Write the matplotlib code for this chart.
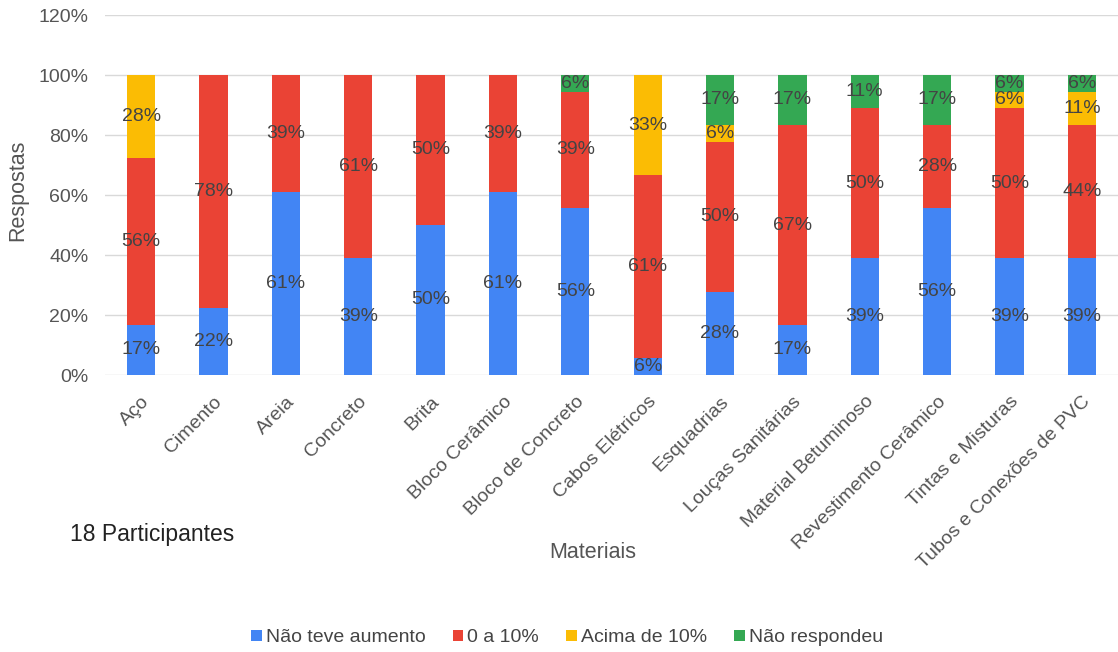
import numpy as np
import matplotlib
matplotlib.use("Agg")
import matplotlib.pyplot as plt

plt.rcParams['font.family'] = ['Liberation Sans', 'DejaVu Sans']

# dados: respostas de 18 participantes
materiais = ["Aço", "Cimento", "Areia", "Concreto", "Brita", "Bloco Cerâmico",
             "Bloco de Concreto", "Cabos Elétricos", "Esquadrias", "Louças Sanitárias",
             "Material Betuminoso", "Revestimento Cerâmico", "Tintas e Misturas",
             "Tubos e Conexões de PVC"]
participantes = 18
sem_aumento = [3, 4, 11, 7, 9, 11, 10, 1, 5, 3, 7, 10, 7, 7]
ate_10 = [10, 14, 7, 11, 9, 7, 7, 11, 9, 12, 9, 5, 9, 8]
acima_10 = [5, 0, 0, 0, 0, 0, 0, 6, 1, 0, 0, 0, 1, 2]
nao_resp = [0, 0, 0, 0, 0, 0, 1, 0, 3, 3, 2, 3, 1, 1]

series = ["Não teve aumento", "0 a 10%", "Acima de 10%", "Não respondeu"]
cores = ["#4285F4", "#EA4335", "#FBBC04", "#34A853"]

fig = plt.figure(figsize=(11.18, 6.52), dpi=100)
ax = fig.add_axes([105/1118, 1-375/652, 1-105/1118, 360/652])

x = np.arange(len(materiais))
base = np.zeros(len(materiais))
for nome, vals, cor in zip(series, [sem_aumento, ate_10, acima_10, nao_resp], cores):
    pct = np.array(vals) / participantes * 100
    ax.bar(x, pct, bottom=base, width=0.39, color=cor, label=nome, zorder=2)
    for xi, b, p in zip(x, base, pct):
        if p > 0:
            ax.text(xi, b + p/2, "%d%%" % round(p), ha='center', va='center',
                    fontsize=14, color='#444444', zorder=3)
    base += pct

ax.set_xlim(-0.5, 13.5)
ax.set_ylim(0, 120)
ax.set_yticks(np.arange(0, 121, 20))
ax.set_yticklabels(["%d%%" % v for v in range(0, 121, 20)])
ax.yaxis.grid(True, color='#d9d9d9', linewidth=1, zorder=0)
ax.tick_params(axis='both', length=0, labelsize=14, labelcolor='#555555')
ax.tick_params(axis='y', pad=12)
ax.set_xticks(x)
ax.set_xticklabels(materiais, rotation=45, ha='right', va='top', rotation_mode='anchor')
ax.tick_params(axis='x', pad=13)
for s in ax.spines.values():
    s.set_visible(False)

fig.text(18/1118, 1-190/652, "Respostas", rotation=90, ha='center', va='center',
         fontsize=15.5, color='#555555')
fig.text(593/1118, 1-553/652, "Materiais", ha='center', va='center',
         fontsize=15.5, color='#555555')
fig.text(70/1118, 1-535/652, "18 Participantes", ha='left', va='center',
         fontsize=16.5, color='#222222')

fig.legend(loc='center', bbox_to_anchor=(567/1118, 1-638/652), ncol=4, frameon=False,
           fontsize=14, handlelength=0.55, handleheight=0.55, handletextpad=0.2,
           columnspacing=1.4, labelcolor='#444444')

fig.savefig("out.png", dpi=100)
